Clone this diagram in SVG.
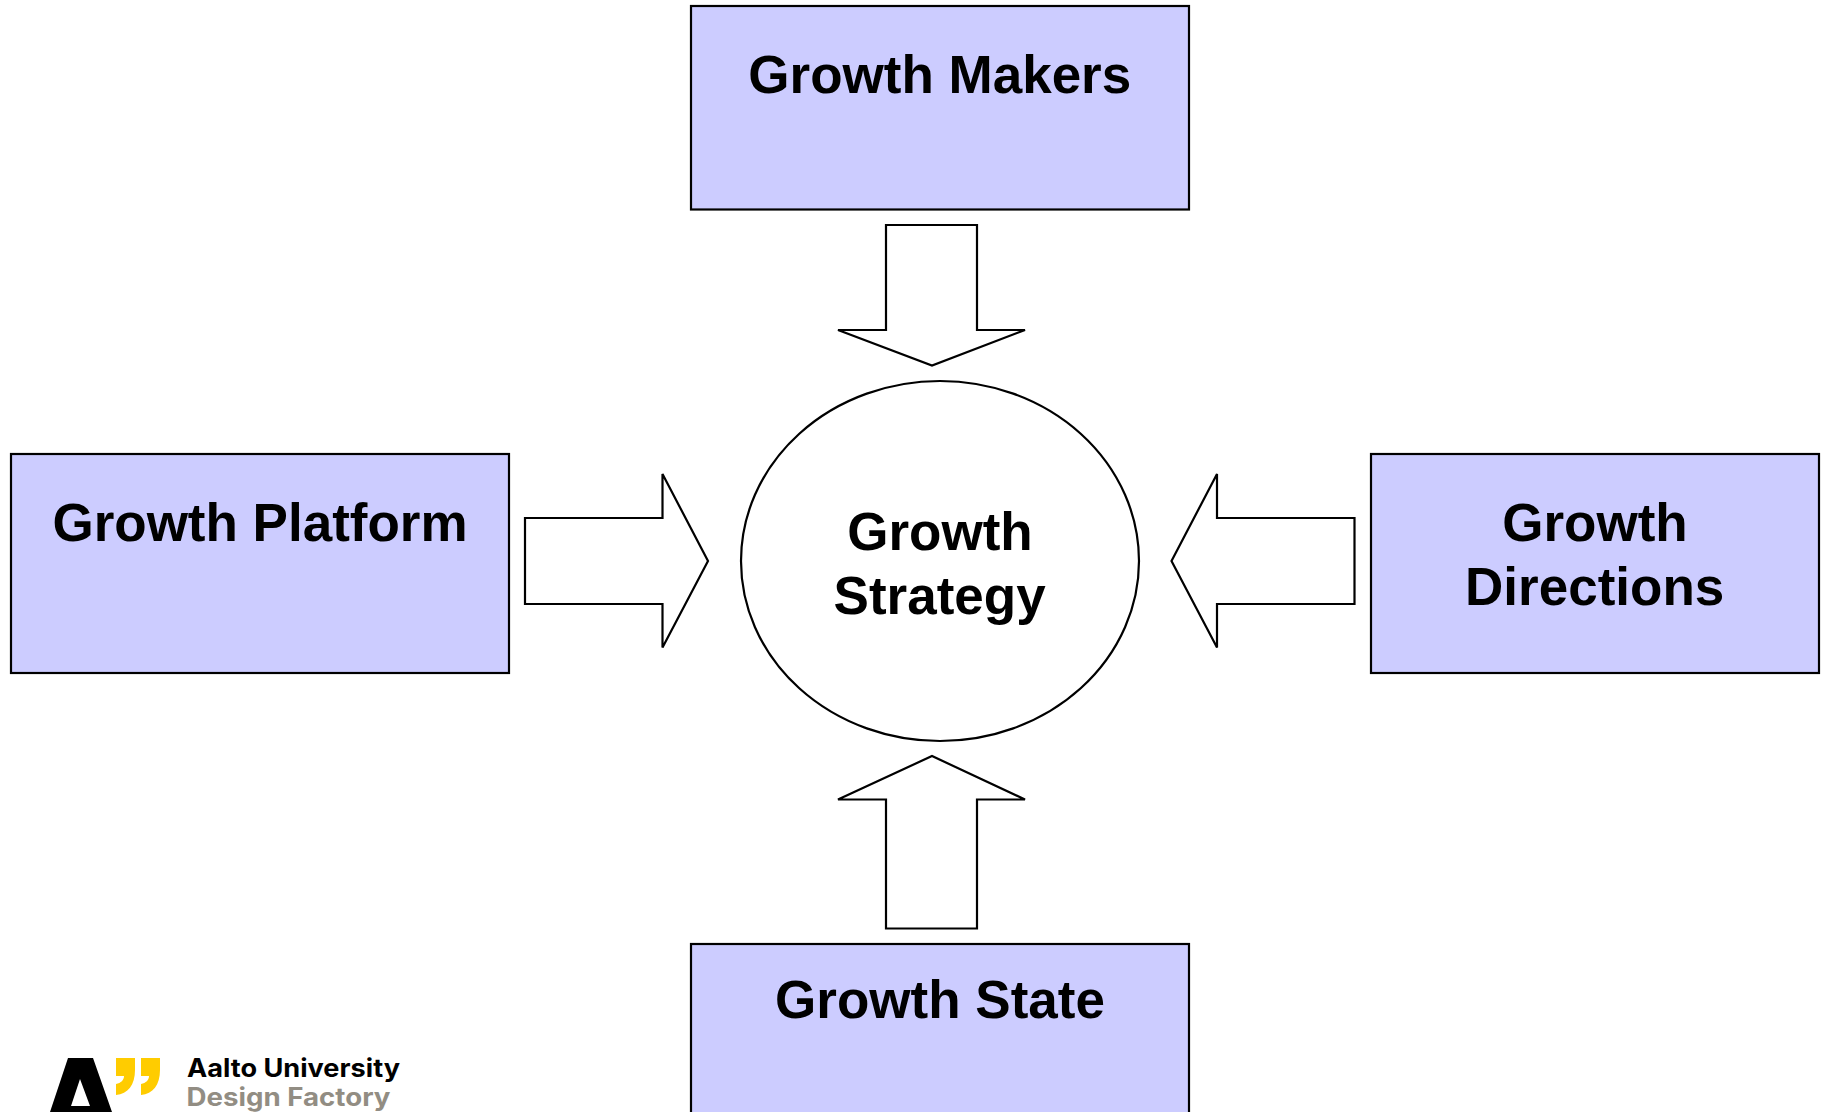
<svg xmlns="http://www.w3.org/2000/svg" width="1826" height="1112" viewBox="0 0 1826 1112">
<style>
.box{fill:#ccccff;stroke:#000;stroke-width:2.200}
.shape{fill:#fff;stroke:#000;stroke-width:2.200}
.label{font-family:"Liberation Sans",Arial,sans-serif;font-weight:700;font-size:53px;fill:#000;text-anchor:middle}
.logo{font-family:Inter,"Liberation Sans",sans-serif;font-weight:700;font-size:25px}
</style>
<rect width="1826" height="1112" fill="#fff"/>
<g id="connectors">
<path id="arrow-top" class="shape" d="M886 225H977V330H1025L932 365.500L838 330H886Z"/>
<path id="arrow-left" class="shape" d="M525 518H662.500V474L708 561L662.500 647.500V604H525Z"/>
<path id="arrow-right" class="shape" d="M1354.500 518H1217V474L1171.500 561L1217 647.500V604H1354.500Z"/>
<path id="arrow-bottom" class="shape" d="M886 928.500H977V799.500H1025L932 756L838 799.500H886Z"/>
</g>
<g id="node-makers"><rect class="box" x="691" y="6" width="498" height="203.500"/><text class="label" x="939.800" y="93">Growth Makers</text></g>
<g id="node-platform"><rect class="box" x="11" y="454" width="498" height="219"/><text class="label" x="260" y="540.500">Growth Platform</text></g>
<g id="node-directions"><rect class="box" x="1371" y="454" width="448" height="219"/><text class="label" x="1595" y="540.500">Growth</text><text class="label" x="1594.700" y="604.500">Directions</text></g>
<g id="node-state"><rect class="box" x="691" y="944" width="498" height="180"/><text class="label" x="940" y="1018">Growth State</text></g>
<g id="node-strategy"><ellipse class="shape" cx="940" cy="561" rx="199" ry="180"/><text class="label" x="940" y="550">Growth</text><text class="label" x="939.600" y="614">Strategy</text></g>
<g id="logo">
<path fill="#000" fill-rule="evenodd" d="M68 1058H93L112 1112H50ZM80 1079L71 1106H90Z"/>
<path fill="#ffcc00" d="M116 1058H135V1070C135 1085 128 1094 116 1095V1084C121 1083 124 1080 124 1076H116Z"/>
<path fill="#ffcc00" d="M141 1058H160V1070C160 1085 153 1094 141 1095V1084C146 1083 149 1080 149 1076H141Z"/>
<text class="logo" x="187" y="1077" fill="#000" textLength="213" lengthAdjust="spacingAndGlyphs">Aalto University</text>
<text class="logo" x="186.500" y="1105.500" fill="#928d83" textLength="204" lengthAdjust="spacingAndGlyphs">Design Factory</text>
</g>
</svg>
